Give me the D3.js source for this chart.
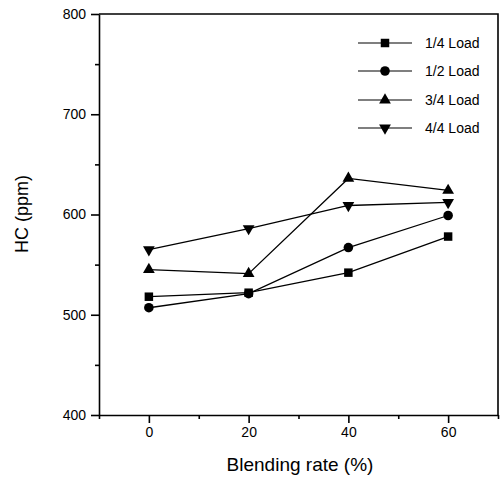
<!DOCTYPE html>
<html>
<head>
<meta charset="utf-8">
<script src="https://cdn.jsdelivr.net/npm/d3@7"></script>
<style>
  body { margin: 0; background: #fff; }
  text { font-family: "Liberation Sans", Arial, sans-serif; fill: #000; }
</style>
</head>
<body>
<script>
// blending rate (%) on x, HC (ppm) on y
var rates = [0, 20, 40, 60];
var seriesNames = ["1/4 Load", "1/2 Load", "3/4 Load", "4/4 Load"];
var quarterLoad = [518, 522, 542, 578];
var halfLoad = [507, 521, 567, 599];
var threeQuarterLoad = [545, 541, 636, 624];
var fullLoad = [565, 586, 609, 612];
var xTicks = [0, 20, 40, 60];
var yTicks = [400, 500, 600, 700, 800];

var series = [
  {name: seriesNames[0], values: quarterLoad, symbol: "square"},
  {name: seriesNames[1], values: halfLoad, symbol: "circle"},
  {name: seriesNames[2], values: threeQuarterLoad, symbol: "up"},
  {name: seriesNames[3], values: fullLoad, symbol: "down"}
];

var width = 501, height = 480;
var plotLeft = 99, plotRight = 498, plotTop = 14, plotBottom = 415;

var svg = d3.select("body").append("svg")
    .attr("width", width)
    .attr("height", height);

var x = d3.scaleLinear().domain([-10, 70]).range([plotLeft, plotRight]);
var y = d3.scaleLinear().domain([400, 800]).range([plotBottom, plotTop]);

// minor ticks first, then major
svg.append("g")
    .attr("transform", "translate(0," + plotBottom + ")")
    .call(d3.axisBottom(x).tickValues([-10, 10, 30, 50, 70]).tickSize(4).tickFormat(""))
    .call(g => g.select(".domain").remove());
svg.append("g")
    .attr("transform", "translate(" + plotLeft + ",0)")
    .call(d3.axisLeft(y).tickValues([450, 550, 650, 750]).tickSize(4).tickFormat(""))
    .call(g => g.select(".domain").remove());

var xAxis = svg.append("g")
    .attr("transform", "translate(0," + plotBottom + ")")
    .call(d3.axisBottom(x).tickValues(xTicks).tickSize(8).tickPadding(4).tickSizeOuter(0));
xAxis.selectAll("text").style("font-size", "14px");

var yAxis = svg.append("g")
    .attr("transform", "translate(" + plotLeft + ",0)")
    .call(d3.axisLeft(y).tickValues(yTicks).tickSize(8).tickPadding(5).tickSizeOuter(0));
yAxis.selectAll("text").style("font-size", "14px");

svg.selectAll(".domain, .tick line").attr("stroke", "#000").attr("stroke-width", 1.6);

// frame top and right
svg.append("path")
    .attr("d", "M" + plotLeft + "," + plotTop + "H" + plotRight + "V" + plotBottom)
    .attr("fill", "none")
    .attr("stroke", "#000")
    .attr("stroke-width", 1.6);

// axis titles
svg.append("text")
    .attr("text-anchor", "middle")
    .attr("transform", "translate(28," + 214 + ")rotate(-90)")
    .style("font-size", "18px")
    .text("HC (ppm)");

svg.append("text")
    .attr("text-anchor", "middle")
    .attr("x", 300)
    .attr("y", 471)
    .style("font-size", "19px")
    .text("Blending rate (%)");

var symbolTypes = {
  square: d3.symbol().type(d3.symbolSquare).size(72),
  circle: d3.symbol().type(d3.symbolCircle).size(72),
  up: d3.symbol().type(d3.symbolTriangle).size(60)
};
function markerPath(sym) {
  if (sym === "down") return symbolTypes.up();
  return symbolTypes[sym]();
}
function markerTransform(sym, px, py) {
  return sym === "down" ? "translate(" + px + "," + py + ")rotate(180)" : "translate(" + px + "," + py + ")";
}

var line = d3.line()
    .x(function(d, i) { return x(rates[i]); })
    .y(function(d) { return y(d); });

var groups = svg.selectAll(".series")
    .data(series)
    .enter().append("g")
    .attr("class", "series");

groups.append("path")
    .attr("d", function(d) { return line(d.values); })
    .attr("fill", "none")
    .attr("stroke", "#000")
    .attr("stroke-width", 1.3);

groups.each(function(s) {
  d3.select(this).selectAll("path.mark")
      .data(s.values)
      .enter().append("path")
      .attr("class", "mark")
      .attr("d", markerPath(s.symbol))
      .attr("transform", function(d, i) { return markerTransform(s.symbol, x(rates[i]), y(d)); })
      .attr("fill", "#000");
});

// legend
var legendY = [43, 71, 100, 128];
var legend = svg.selectAll(".legend")
    .data(series)
    .enter().append("g")
    .attr("class", "legend")
    .attr("transform", function(d, i) { return "translate(0," + legendY[i] + ")"; });

legend.append("line")
    .attr("x1", 358).attr("x2", 412)
    .attr("stroke", "#000")
    .attr("stroke-width", 1.2);
legend.append("path")
    .attr("d", function(d) { return markerPath(d.symbol); })
    .attr("transform", function(d) { return markerTransform(d.symbol, 385, 0); })
    .attr("fill", "#000");
legend.append("text")
    .attr("x", 425)
    .attr("y", 5)
    .style("font-size", "14px")
    .text(function(d) { return d.name; });
</script>
</body>
</html>
